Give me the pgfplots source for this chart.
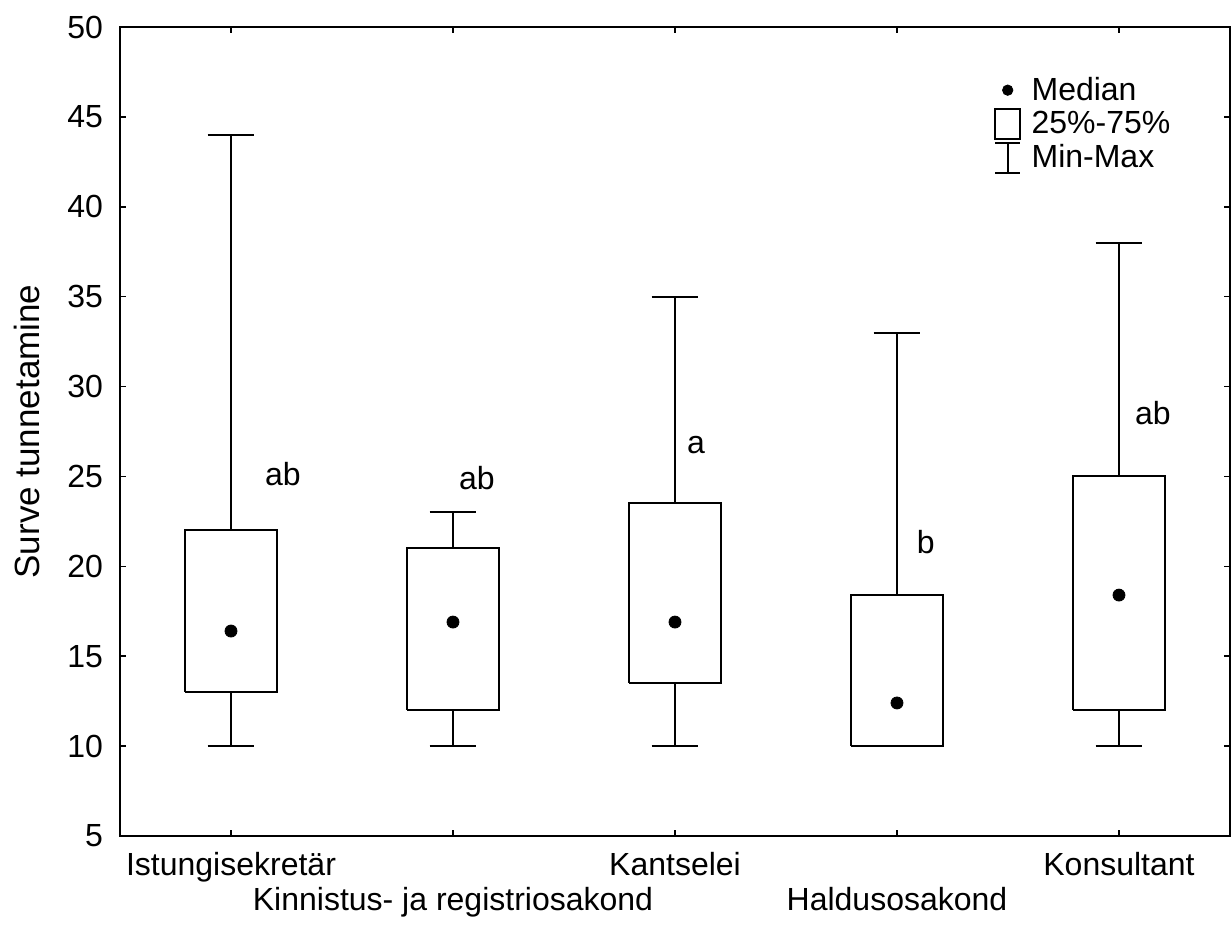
\documentclass[border=0pt]{standalone}
\usepackage{pgfplots}
\pgfplotsset{compat=1.18}
\usepackage{fontspec}
\setmainfont{Liberation Sans}
\begin{document}
\begin{tikzpicture}
\begin{axis}[
  scale only axis,
  width=555pt, height=404.5pt,
  xmin=-0.5, xmax=4.5,
  ymin=5, ymax=50,
  ytick={5,10,...,50},
  xtick={0,1,2,3,4},
  xticklabels={\strut Istungisekretär,{\strut\\\strut Kinnistus- ja registriosakond},\strut Kantselei,{\strut\\\strut Haldusosakond},\strut Konsultant},
  xticklabel style={align=center, font=\fontsize{16}{17.5}\selectfont, yshift=-4pt},
  yticklabel style={font=\fontsize{16}{18}\selectfont, xshift=-5pt},
  /pgf/number format/assume math mode=true,
  tick align=inside,
  major tick length=3pt,
  tick style={black, line width=0.8pt},
  axis line style={black, line width=1pt},
  unbounded coords=jump,
  ylabel={Surve tunnetamine},
  ylabel style={font=\fontsize{17.5}{19}\selectfont, at={(axis description cs:-0.0838,0.5)}, anchor=center},
  legend style={draw=none, fill=none, at={(axis description cs:0.7856,0.946)}, anchor=north west,
    font=\fontsize{16}{18}\selectfont, row sep=0pt, inner sep=1pt},
  legend cell align=left,
]
% box (Q1-Q3), whiskers to min and max with caps
\addplot[black, line width=1pt, forget plot] coordinates {
 (-0.205,13) (0.205,13) (0.205,22) (-0.205,22) (-0.205,13) (0,nan)
 (0,22) (0,44) (0,nan) (-0.105,44) (0.105,44) (0,nan)
 (0,13) (0,10) (0,nan) (-0.105,10) (0.105,10)};
\addplot[black, line width=1pt, forget plot] coordinates {
 (0.795,12) (1.205,12) (1.205,21) (0.795,21) (0.795,12) (1,nan)
 (1,21) (1,23) (1,nan) (0.895,23) (1.105,23) (1,nan)
 (1,12) (1,10) (1,nan) (0.895,10) (1.105,10)};
\addplot[black, line width=1pt, forget plot] coordinates {
 (1.795,13.5) (2.205,13.5) (2.205,23.5) (1.795,23.5) (1.795,13.5) (2,nan)
 (2,23.5) (2,35) (2,nan) (1.895,35) (2.105,35) (2,nan)
 (2,13.5) (2,10) (2,nan) (1.895,10) (2.105,10)};
\addplot[black, line width=1pt, forget plot] coordinates {
 (2.795,10) (3.205,10) (3.205,18.4) (2.795,18.4) (2.795,10) (3,nan)
 (3,18.4) (3,33) (3,nan) (2.895,33) (3.105,33)};
\addplot[black, line width=1pt, forget plot] coordinates {
 (3.795,12) (4.205,12) (4.205,25) (3.795,25) (3.795,12) (4,nan)
 (4,25) (4,38) (4,nan) (3.895,38) (4.105,38) (4,nan)
 (4,12) (4,10) (4,nan) (3.895,10) (4.105,10)};
% medians
\addplot[only marks, mark=*, mark size=3pt, black, forget plot] coordinates {(0,16.4) (1,16.9) (2,16.9) (3,12.4) (4,18.4)};
\addlegendimage{legend image code/.code={\fill[black] (6.25pt,0pt) circle (2.6pt); \path (16pt,0pt);}}
\addlegendentry{Median}
\addlegendimage{legend image code/.code={\draw[black, line width=0.8pt] (0pt,-7.5pt) rectangle (12.5pt,7.5pt); \path (16pt,0pt);}}
\addlegendentry{25\%-75\%}
\addlegendimage{legend image code/.code={\draw[black, line width=0.8pt] (0pt,-7.5pt)--(12.5pt,-7.5pt) (6.25pt,-7.5pt)--(6.25pt,7.5pt) (0pt,7.5pt)--(12.5pt,7.5pt); \path (16pt,0pt);}}
\addlegendentry{Min-Max}
\node[font=\fontsize{16}{18}\selectfont] at (axis cs:0.234,25.13) {ab};
\node[font=\fontsize{16}{18}\selectfont] at (axis cs:1.108,24.9) {ab};
\node[font=\fontsize{16}{18}\selectfont] at (axis cs:2.095,26.74) {a};
\node[font=\fontsize{16}{18}\selectfont] at (axis cs:3.13,21.35) {b};
\node[font=\fontsize{16}{18}\selectfont] at (axis cs:4.153,28.52) {ab};
\end{axis}
\path (current axis.south west) ++(-60pt,-42pt) coordinate (bbA);
\path (current axis.south west) ++(556pt,418pt) coordinate (bbB);
\path[use as bounding box] (bbA) rectangle (bbB);
\end{tikzpicture}
\end{document}
